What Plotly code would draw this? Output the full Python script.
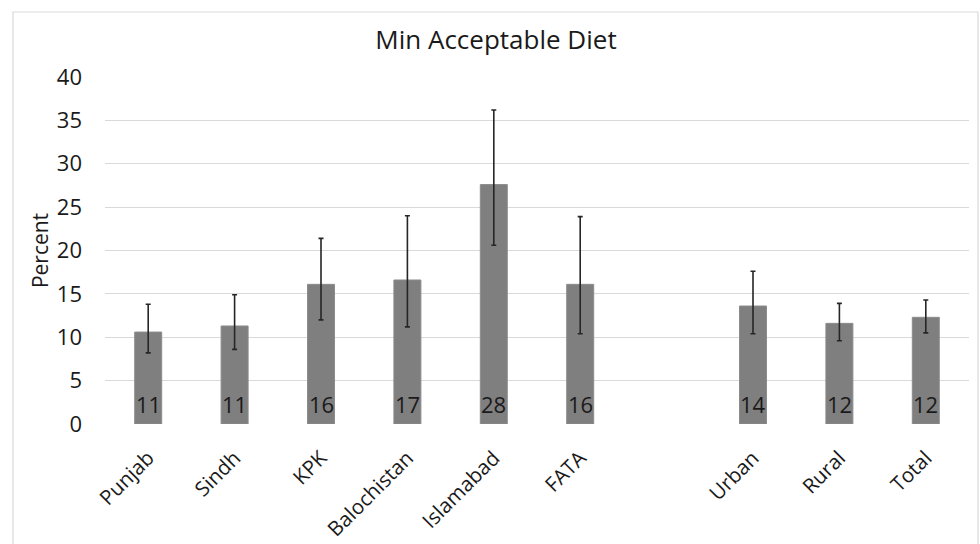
import plotly.graph_objects as go

# Regions and totals; the blank entry leaves a gap between FATA and Urban
categories = ["Punjab", "Sindh", "KPK", "Balochistan", "Islamabad", "FATA", " ", "Urban", "Rural", "Total"]
percent = [10.6, 11.3, 16.1, 16.6, 27.6, 16.1, None, 13.6, 11.6, 12.3]
ci_upper = [13.8, 14.9, 21.4, 24.0, 36.2, 23.9, None, 17.6, 13.9, 14.3]
ci_lower = [8.2, 8.6, 12.0, 11.2, 20.6, 10.4, None, 10.4, 9.6, 10.5]

y_ticks = [0, 5, 10, 15, 20, 25, 30, 35, 40]

err_plus = [None if v is None else u - v for v, u in zip(percent, ci_upper)]
err_minus = [None if v is None else v - l for v, l in zip(percent, ci_lower)]

FONT = "Open Sans, Noto Sans, sans-serif"
TEXT = "#1a1a1a"
GRID = "#d9d9d9"

fig = go.Figure()
fig.add_trace(go.Bar(
    x=categories,
    y=percent,
    marker=dict(color="#7f7f7f", line=dict(color="#8c8c8c", width=1)),
    error_y=dict(type="data", symmetric=False, array=err_plus, arrayminus=err_minus,
                 color="#262626", thickness=1.6, width=2.5),
    hoverinfo="x+y",
))

# value labels sitting at the base of each bar
annotations = [
    dict(x=c, y=0, xref="x", yref="y", text=f"{v:.0f}", showarrow=False,
         yanchor="bottom", yshift=3, font=dict(family=FONT, size=22, color=TEXT))
    for c, v in zip(categories, percent) if v is not None
]

L, R, T, B = 105, 11, 77, 120
plot_w = 980 - L - R
plot_h = 544 - T - B

fig.update_layout(
    width=980, height=544,
    margin=dict(l=L, r=R, t=T, b=B, pad=0, autoexpand=False),
    paper_bgcolor="white", plot_bgcolor="white",
    showlegend=False,
    bargap=0.6875,
    font=dict(family=FONT, color=TEXT),
    title=dict(text="Min Acceptable Diet", x=496 / 980, xanchor="center",
               y=1 - 40 / 544, yanchor="middle",
               font=dict(family=FONT, size=26, color=TEXT)),
    xaxis=dict(type="category", categoryorder="array", categoryarray=categories,
               tickangle=-45, tickfont=dict(family=FONT, size=20.5, color=TEXT),
               showgrid=False, showline=False, ticks="", zeroline=False,
               ticklabelstandoff=17, ticklabelshift=0, automargin=False),
    yaxis=dict(range=[0, 40], tickvals=y_ticks, ticktext=[str(t) for t in y_ticks],
               tickfont=dict(family=FONT, size=22, color=TEXT),
               showgrid=True, gridcolor=GRID, gridwidth=1, zeroline=False,
               showline=False, ticks="", ticklabelstandoff=22, automargin=False,
               title=dict(text="Percent", font=dict(family=FONT, size=21, color=TEXT),
                          standoff=2)),
    annotations=annotations,
    shapes=[dict(type="rect", xref="paper", yref="paper",
                 x0=(13 - L) / plot_w, x1=(978 - L) / plot_w,
                 y0=-0.6, y1=(544 - B - 12) / plot_h,
                 line=dict(color=GRID, width=1.2), fillcolor="rgba(0,0,0,0)", layer="below")],
)

fig.write_html("out.html")
